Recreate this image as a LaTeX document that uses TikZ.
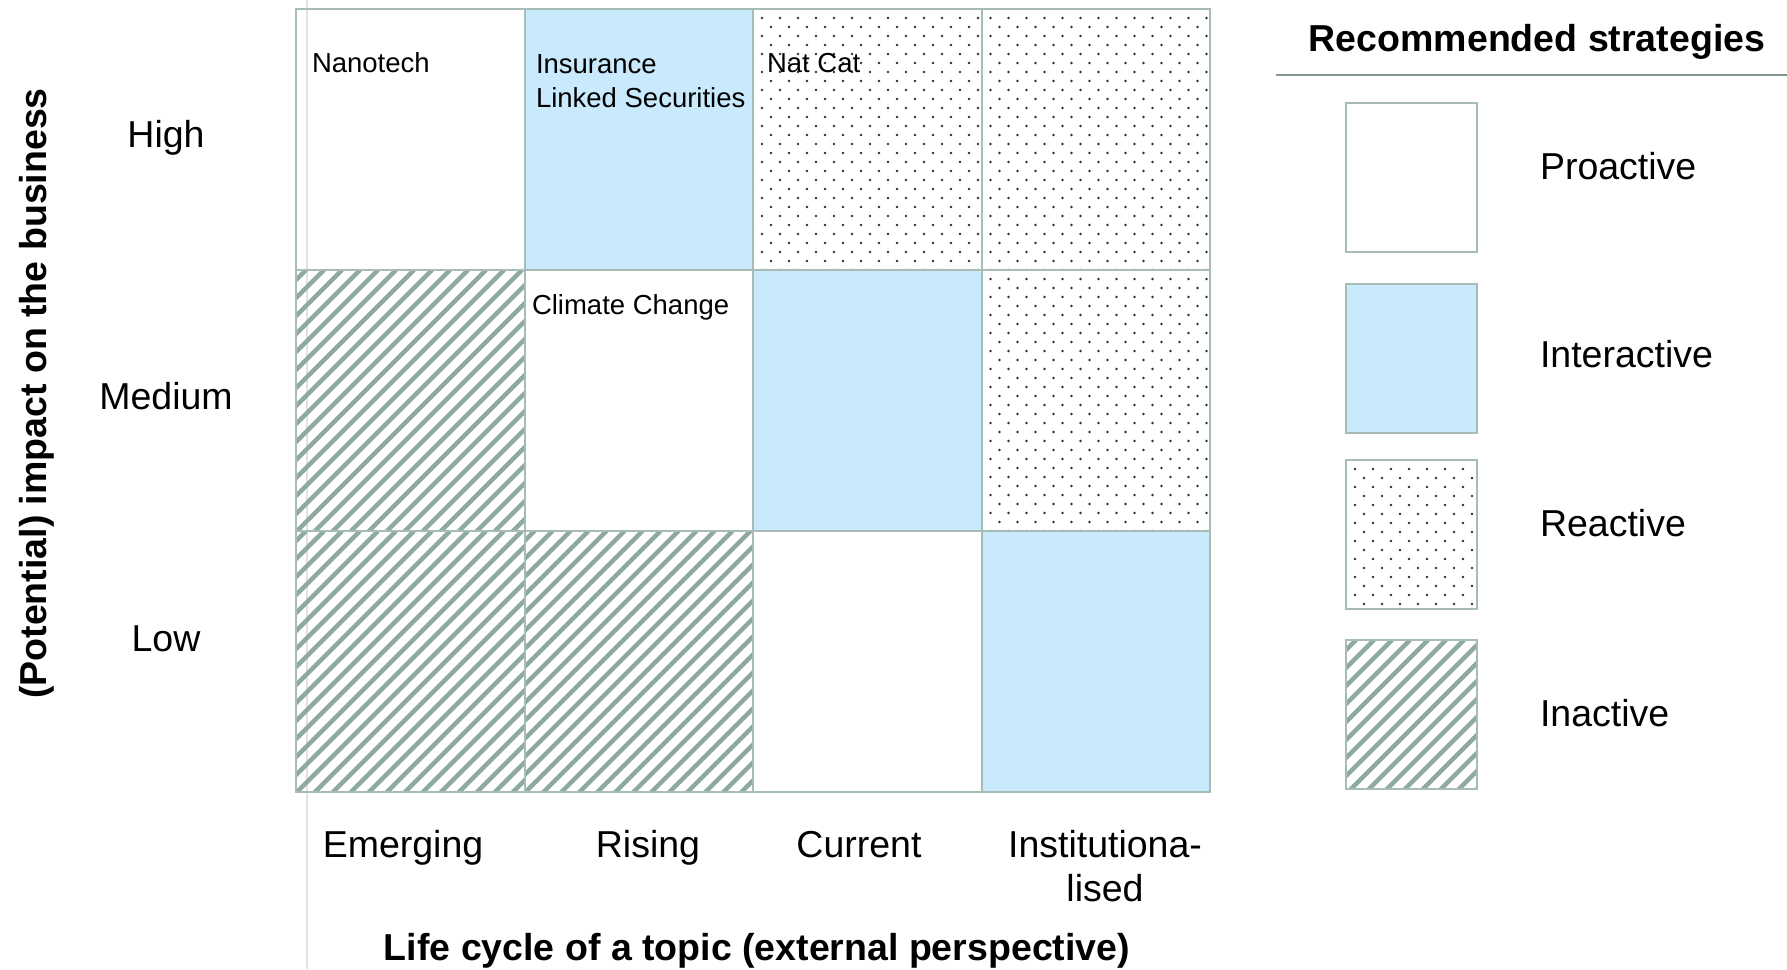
\documentclass[tikz,border=0pt]{standalone}
\usepackage{fontspec}
\setmainfont{Liberation Sans}
\definecolor{gridc}{HTML}{A7BCB5}
\definecolor{hatchc}{HTML}{8EA99D}
\definecolor{riskblue}{HTML}{C8EAFC}
\definecolor{dotc}{HTML}{2E2E2E}
\definecolor{rulec}{HTML}{7F978F}
\definecolor{faintc}{HTML}{E2E2E2}
% staggered dot texture clipped to a named box
\newcommand\dotsinbox[1]{%
  \begin{scope}
    \clip (#1.north west) rectangle (#1.south east);
    \begin{scope}[shift={(#1.north west)}]
      \foreach \j in {0,...,15}{\foreach \i in {0,...,13}{
        \fill[dotc] ({9+18*\i},{9+18*\j}) circle[radius=1.35pt];
        \fill[dotc] ({18*\i},{18+18*\j}) circle[radius=1.35pt];}}
    \end{scope}
  \end{scope}}
% diagonal stripe texture (rising to the right) clipped to a named box
\newcommand\stripesinbox[1]{%
  \begin{scope}
    \clip (#1.north west) rectangle (#1.south east);
    \begin{scope}[shift={(#1.north west)}]
      \foreach \k in {-16,...,14}
        \draw[hatchc,line width=4.5pt] ({18*\k},280) -- ({18*\k+280},0);
    \end{scope}
  \end{scope}}
\begin{document}
\begin{tikzpicture}[x=1pt,y=-1pt,
  every node/.style={inner sep=0pt,outer sep=0pt},
  cell/.style={rectangle,anchor=north west,minimum width=228.5pt,minimum height=261pt},
  keybox/.style={rectangle,anchor=north west,minimum width=131pt,minimum height=149pt},
  bluefill/.style={fill=riskblue},
  border/.style={draw=gridc,line width=2pt},
  celllabel/.style={font=\fontsize{27.5}{34}\selectfont,text=black},
  biglabel/.style={font=\fontsize{37.5}{44}\selectfont,text=black},
  axistitle/.style={font=\fontsize{37.5}{44}\selectfont\bfseries,text=black}
]
\useasboundingbox (0,0) rectangle (1787,969);

% faint guide line behind the matrix
\coordinate (guideT) at (307,0);
\coordinate (guideB) at (307,969);
\draw[faintc,line width=1.2pt] (guideT) -- (guideB);

% matrix cells: rows High / Medium / Low, columns Emerging .. Institutionalised
\node[cell] (h1) at (296,9) {};
\node[cell,bluefill] (h2) at (524.5,9) {};
\node[cell] (h3) at (753,9) {};
\node[cell] (h4) at (981.5,9) {};
\node[cell] (m1) at (296,270) {};
\node[cell] (m2) at (524.5,270) {};
\node[cell,bluefill] (m3) at (753,270) {};
\node[cell] (m4) at (981.5,270) {};
\node[cell] (l1) at (296,531) {};
\node[cell] (l2) at (524.5,531) {};
\node[cell] (l3) at (753,531) {};
\node[cell,bluefill] (l4) at (981.5,531) {};

% legend boxes
\node[keybox] (kpro) at (1346,103) {};
\node[keybox,bluefill] (kint) at (1346,284) {};
\node[keybox] (krea) at (1346,460) {};
\node[keybox] (kina) at (1346,640) {};

% textures
\foreach \n in {h3,h4,m4,krea} {\dotsinbox{\n}}
\foreach \n in {m1,l1,l2,kina} {\stripesinbox{\n}}

% borders on top of the fills
\foreach \n in {h1,h2,h3,h4,m1,m2,m3,m4,l1,l2,l3,l4,kpro,kint,krea,kina}
  \draw[border] (\n.north west) rectangle (\n.south east);

% topics inside the matrix
\node[celllabel,anchor=base west] (tnano) at (312,72) {Nanotech};
\node[celllabel,anchor=north west,align=left] (tils) at (536,55) {Insurance\\Linked Securities};
\node[celllabel,anchor=base west] (tnat) at (767,72) {Nat Cat};
\node[celllabel,anchor=base west] (tclim) at (532,314) {Climate Change};

% impact levels
\node[biglabel,anchor=base] (rhigh) at (166,147) {High};
\node[biglabel,anchor=base] (rmed) at (166,409) {Medium};
\node[biglabel,anchor=base] (rlow) at (166,651) {Low};

% life-cycle stages
\node[biglabel,anchor=base] (cemg) at (403,857) {Emerging};
\node[biglabel,anchor=base] (cris) at (648,857) {Rising};
\node[biglabel,anchor=base] (ccur) at (859,857) {Current};
\node[biglabel,anchor=north,align=center] (cinst) at (1105,830) {Institutiona-\\lised};

% axis titles
\node[axistitle,rotate=90,anchor=base] (yaxis) at (46,393.5) {(Potential) impact on the business};
\node[axistitle,anchor=base] (xaxis) at (757,960) {Life cycle of a topic (external perspective)};

% legend
\node[axistitle,anchor=base] (ktitle) at (1537,51) {Recommended strategies};
\coordinate (ruleL) at (1276,75);
\coordinate (ruleR) at (1787,75);
\draw[rulec,line width=2pt] (ruleL) -- (ruleR);
\node[biglabel,anchor=base west] (lpro) at (1540,179) {Proactive};
\node[biglabel,anchor=base west] (lint) at (1540,367) {Interactive};
\node[biglabel,anchor=base west] (lrea) at (1540,536) {Reactive};
\node[biglabel,anchor=base west] (lina) at (1540,726) {Inactive};
\end{tikzpicture}
\end{document}
